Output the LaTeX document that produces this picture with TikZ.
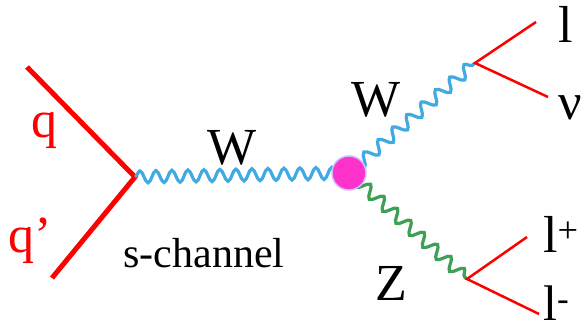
\documentclass[tikz,border=0pt]{standalone}
\usepackage{fontspec}
\setmainfont{Liberation Serif}
\usetikzlibrary{decorations.pathmorphing}
\definecolor{qred}{RGB}{255,0,0}
\definecolor{wblue}{RGB}{64,170,225}
\definecolor{zgreen}{RGB}{60,160,85}
\definecolor{blobpink}{RGB}{255,51,204}
\definecolor{bloblav}{RGB}{200,190,255}
\tikzset{
  quark/.style={draw=qred,line width=5pt},
  lepton/.style={draw=qred,line width=2.5pt},
  boson/.style={line width=3.2pt,decorate,decoration={snake,segment length=#1,amplitude=6pt}},
  lab/.style={inner sep=0pt,anchor=base,font=\fontsize{52}{60}\selectfont},
  qlab/.style={lab,text=qred},
}
\begin{document}
\begin{tikzpicture}[x=1pt,y=-1pt]
\useasboundingbox (0,0) rectangle (586,331);
\coordinate (qa) at (27,67);
\coordinate (qb) at (52,278);
\coordinate (v1) at (135,177);
\coordinate (v2) at (475,63);
\coordinate (v3) at (467,279);
\coordinate (la) at (536,22);
\coordinate (lb) at (548,97);
\coordinate (lc) at (527,237);
\coordinate (ld) at (539,314);
\coordinate (bc) at (349,173);
% quarks
\draw[quark,line cap=butt] (qa) -- (v1) -- (qb);
% bosons
\draw[boson=16pt,wblue] (v1) -- (bc);
\draw[boson=19pt,wblue] (bc) -- (v2);
\draw[boson=18pt,zgreen] (bc) -- (v3);
% leptons
\draw[lepton] (la) -- (v2) -- (lb);
\draw[lepton] (lc) -- (v3) -- (ld);
% blob
\node[circle,fill=blobpink,draw=bloblav,line width=1.5pt,minimum size=34pt,inner sep=0pt] (blob) at (bc) {};
% labels
\node[qlab] (lq) at (44,138) {q};
\node[qlab] (lqp) at (30,252) {q’};
\node[lab] (lw1) at (232,165) {W};
\node[lab] (lw2) at (376,117) {W};
\node[lab] (lz) at (391,300) {Z};
\node[inner sep=0pt,anchor=base,font=\fontsize{42}{50}\selectfont] (sch) at (204,267) {s-channel};
\node[lab] (ll) at (566,43) {l};
\node[lab] (lnu) at (570,120) {ν};
\node[lab,anchor=base west] (llp) at (543,252) {l\textsuperscript{+}};
\node[lab,anchor=base west,font=\fontsize{50}{58}\selectfont] (llm) at (543,320) {l\textsuperscript{-}};
\end{tikzpicture}
\end{document}
